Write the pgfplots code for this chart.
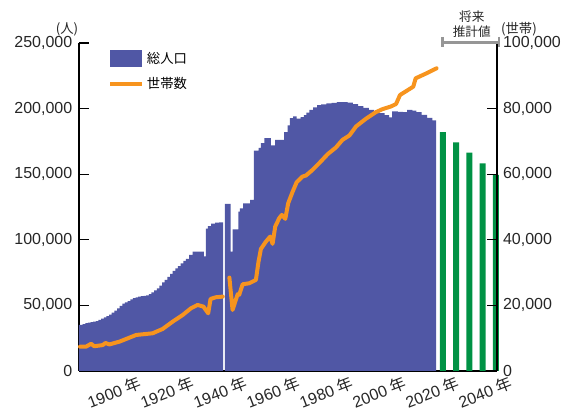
\documentclass[border=0pt]{standalone}
\usepackage{pgfplots}
\pgfplotsset{compat=1.18}
\usepackage{fontspec}
\setmainfont{Liberation Sans}
\newfontfamily\jp{Noto Sans CJK JP}
\definecolor{popblue}{RGB}{80,87,165}
\definecolor{hhorange}{RGB}{247,148,30}
\definecolor{projgreen}{RGB}{0,146,69}
\definecolor{brgray}{RGB}{150,150,150}
\begin{document}
\begin{tikzpicture}
\path[use as bounding box] (-59.25pt,-29.25pt) rectangle (362.25pt,278.25pt);
\pgfplotsset{
  common/.style={
    scale only axis, width=313.5pt, height=246pt,
    at={(0pt,0pt)}, anchor=south west,
    xmin=1882.64, xmax=2040.4, clip=false,
    axis line style={-, line width=1.1pt, black},
    tick align=inside, major tick length=7.5pt,
    scaled y ticks=false,
    yticklabel style={/pgf/number format/fixed, /pgf/number format/1000 sep={,}, /pgf/number format/assume math mode=true},
    tick label style={font=\fontsize{12}{14}\selectfont, text=black!85},
  }
}
\begin{axis}[common,
  ymin=0, ymax=250000,
  axis x line*=bottom, axis y line*=left,
  ytick={0,50000,100000,150000,200000,250000},
  ytick style={line width=1pt, black},
  yticklabel style={xshift=-1.5pt},
  xtick={1900,1920,1940,1960,1980,2000,2020,2040},
  xticklabels={1900 {\jp 年},1920 {\jp 年},1940 {\jp 年},1960 {\jp 年},1980 {\jp 年},2000 {\jp 年},2020 {\jp 年},2040 {\jp 年}},
  xtick style={draw=none},
  xticklabel style={rotate=21, anchor=north east, inner sep=0pt, xshift=8pt, yshift=-6.5pt},
  legend style={at={(rel axis cs:0.0694,0.982)}, anchor=north west, draw=none, fill=none,
    inner sep=0pt, font=\jp\fontsize{10}{12}\selectfont, row sep=5pt,
    /tikz/every even column/.style={column sep=13pt}},
  legend cell align=left,
]
% total population, segment 1
\addplot[const plot, fill=popblue, draw=none,
  legend image code/.code={\fill[popblue] (0pt,-6.4pt) rectangle (23.8pt,6.4pt);}]
coordinates {
(1882.64,35100)(1884,35800)(1885,36400)(1886,36800)(1887,37200)(1888,37700)(1889,38100)
(1890,39000)(1891,39900)(1892,40800)(1893,41800)(1894,43000)(1895,44500)(1896,46000)
(1897,47800)(1898,49600)(1899,51400)(1900,52300)(1901,53300)(1902,54500)(1903,55500)
(1904,56100)(1905,56600)(1906,57000)(1907,57300)(1908,57600)(1909,58500)(1910,60000)
(1911,61500)(1912,63000)(1913,65000)(1914,67500)(1915,69400)(1916,71800)(1917,74000)
(1918,76300)(1919,78300)(1920,80000)(1921,82000)(1922,84000)(1923,85400)(1924.2,88500)
(1925.5,91000)(1929.8,87300)(1930.5,108500)(1931.3,110500)(1932.5,112300)(1934,113000)
(1935.5,113200)(1937.0,113200)
} \closedcycle;
\addlegendentry{総人口}
\addlegendimage{hhorange, line width=3pt, legend image code/.code={\draw[hhorange, line width=3pt] (0pt,0pt) -- (24pt,0pt);}}
\addlegendentry{世帯数}
% total population, segment 2
\addplot[const plot, fill=popblue, draw=none, forget plot]
coordinates {
(1937.7,127300)(1939.9,90900)(1940.6,108000)(1942.8,121400)(1943.4,124000)(1944.6,127800)
(1947.2,130400)(1948.6,168000)(1950.4,170000)(1951.3,173700)(1952.6,177500)(1955.1,171900)
(1956.7,176200)(1960.1,182100)(1961.4,187200)(1962.2,192800)(1963.5,194000)(1964.8,192300)
(1966.3,193500)(1967.5,195000)(1968.5,197000)(1969.6,199100)(1971,201000)(1972.5,202600)
(1974,203300)(1976,204000)(1978,204400)(1980,205000)(1982,205000)(1984,204500)(1986,203500)
(1988,201900)(1990,200500)(1992,199100)(1994,197800)(1996,196600)(1998,195000)(1999.7,193300)
(2000.8,197800)(2003,197500)(2005,197300)(2006.5,199100)(2008.5,198500)(2010,197300)
(2012,195300)(2014,193000)(2016,191000)(2017.4,190200)
} \closedcycle;
% projections
\addplot[ybar, bar width=2.26, bar shift=0pt, fill=projgreen, draw=none, forget plot]
coordinates {(2020,182000)(2025,174300)(2030,166400)(2035,158300)(2040,149400)};
\node[font=\jp\fontsize{10}{12}\selectfont, text=black!85] at (axis cs:1878.1,260500) {(人)};
\end{axis}
\begin{axis}[common,
  ymin=0, ymax=100000,
  axis x line=none, axis y line*=right,
  ytick={0,20000,40000,60000,80000,100000},
  ytick style={line width=1pt, black},
  yticklabel style={xshift=1pt},
]
\addplot[hhorange, line width=3pt, line join=round, line cap=round] coordinates {
(1883.0,7400)(1885.3,7420)(1887.2,8300)(1888.4,7550)(1891.6,7900)(1892.6,8550)(1894.1,8100)
(1897.9,8950)(1900.4,9760)(1904.2,10980)(1906.7,11190)(1910.4,11490)(1914.2,12810)(1918.0,15050)
(1921.8,17090)(1924.9,19120)(1927.4,20140)(1929.6,19630)(1931.4,17590)(1932.3,21970)
(1934.3,22480)(1936.9,22680)
};
\addplot[hhorange, line width=3pt, line join=round, line cap=round] coordinates {
(1939.4,28480)(1940.6,18610)(1942.5,23390)(1943.1,23200)(1944.4,26440)(1946.9,26750)
(1949.4,27760)(1950.4,33360)(1951.3,37220)(1953.2,39460)(1954.8,40980)(1955.7,38750)
(1956.7,44040)(1958.2,46580)(1959.2,47600)(1960.5,46380)(1961.6,51160)(1963.3,54720)
(1964.8,57560)(1967.0,59290)(1968.3,59600)(1970.8,61330)(1973.3,63360)(1976.5,66110)
(1979.6,68140)(1982.1,70480)(1984.7,71800)(1987.2,74550)(1990.9,76890)(1994.7,78920)
(1997.2,79840)(2000.4,80650)(2002.3,81400)(2003.8,84150)(2008.8,86680)(2009.7,89230)
(2013.8,90760)(2017.6,92280)
};
\draw[brgray, line width=2pt] (axis cs:2019.9,100213) -- (axis cs:2041.1,100213);
\draw[brgray, line width=2pt] (axis cs:2019.9,101830) -- (axis cs:2019.9,98780);
\draw[brgray, line width=2pt] (axis cs:2041.1,101830) -- (axis cs:2041.1,98780);
\node[align=center, font=\jp\fontsize{9.5}{11.25}\selectfont, text=black!85] at (axis cs:2030.9,105640) {将来\\推計値};
\node[font=\jp\fontsize{10}{12}\selectfont, text=black!85] at (axis cs:2048.7,104200) {(世帯)};
\end{axis}
\end{tikzpicture}
\end{document}
